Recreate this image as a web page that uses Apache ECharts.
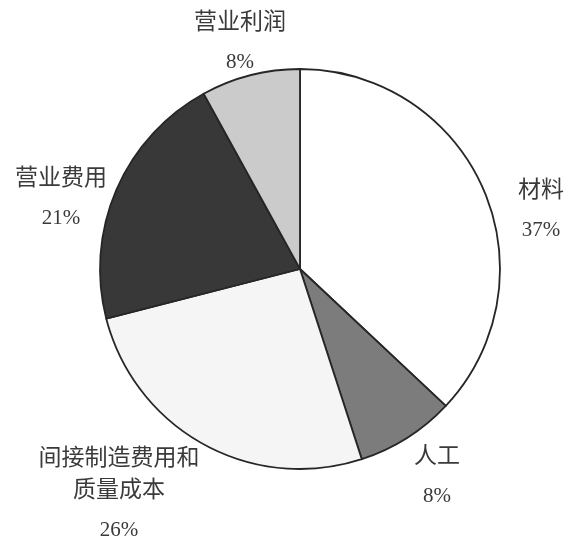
<!DOCTYPE html>
<html>
<head>
<meta charset="utf-8">
<script src="https://cdn.jsdelivr.net/npm/echarts@6/dist/echarts.min.js"></script>
<style>
  html, body { margin: 0; padding: 0; background: #ffffff; }
  #chart { width: 567px; height: 552px; }
</style>
</head>
<body>
<div id="chart"></div>
<script>
// Cost structure shares (percent), clockwise from 12 o'clock
const categories = ['材料', '人工', '间接制造费用和\n质量成本', '营业费用', '营业利润'];
const shares = [37, 8, 26, 21, 8];

// Slice fills, grayscale
const fills = ['#ffffff', '#7c7c7c', '#f5f5f5', '#383838', '#cbcbcb'];
// Label block centres (px)
const labelSpots = [[541, 214], [437, 480], [119, 498], [61, 202], [240, 46]];

const chart = echarts.init(document.getElementById('chart'), null, { renderer: 'canvas' });

const FONT = "'Liberation Serif', 'Noto Sans CJK SC', serif";

chart.setOption({
  backgroundColor: '#ffffff',
  animation: false,
  series: [{
    type: 'pie',
    center: [300, 269],
    radius: 200,
    startAngle: 90,
    clockwise: true,
    avoidLabelOverlap: false,
    data: categories.map((name, i) => ({
      name: name,
      value: shares[i],
      itemStyle: { color: fills[i] }
    })),
    itemStyle: { borderColor: '#262626', borderWidth: 1.8 },
    emphasis: { disabled: true },
    label: {
      show: true,
      position: 'outside',
      formatter: function (p) {
        const lines = p.name.split('\n').map(s => '{n|' + s + '}');
        return lines.join('\n') + '\n{p|' + Math.round(p.percent) + '%}';
      },
      rich: {
        n: { fontFamily: FONT, fontSize: 23, color: '#3a3a3a', lineHeight: 32, align: 'center' },
        p: { fontFamily: FONT, fontSize: 21, color: '#3a3a3a', lineHeight: 46, align: 'center' }
      }
    },
    labelLine: { show: false },
    labelLayout: function (params) {
      const s = labelSpots[params.dataIndex];
      return { x: s[0], y: s[1], align: 'center', verticalAlign: 'middle' };
    }
  }]
});
</script>
</body>
</html>
